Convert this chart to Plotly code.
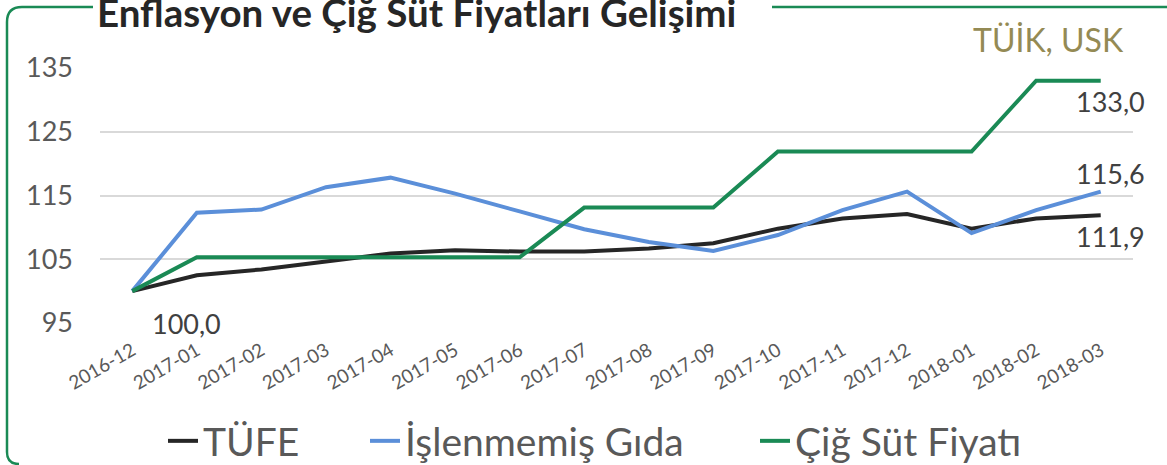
import plotly.graph_objects as go

months = ["2016-12", "2017-01", "2017-02", "2017-03", "2017-04", "2017-05", "2017-06",
          "2017-07", "2017-08", "2017-09", "2017-10", "2017-11", "2017-12",
          "2018-01", "2018-02", "2018-03"]
tufe = [100.0, 102.5, 103.4, 104.6, 105.9, 106.4, 106.2, 106.2, 106.7, 107.5,
        109.8, 111.4, 112.1, 109.8, 111.4, 111.9]
gida = [100.0, 112.3, 112.8, 116.3, 117.8, 115.3, 112.5, 109.7, 107.7, 106.3,
        108.8, 112.7, 115.6, 109.1, 112.7, 115.6]
sut = [100.0, 105.3, 105.3, 105.3, 105.3, 105.3, 105.3, 113.1, 113.1, 113.1,
       121.9, 121.9, 121.9, 121.9, 133.0, 133.0]
y_ticks = [95, 105, 115, 125, 135]

title = "Enflasyon ve Çiğ Süt Fiyatları Gelişimi"
source = "TÜİK, USK"

FONT = "Lato"
W, H = 1167, 465
L, R, T, B = 100, 34, 68, 142
PW = W - L - R
PH = H - T - B


def px(x):
    return (x - L) / PW


def py(y):
    return (H - B - y) / PH


fig = go.Figure()
series = [("TÜFE", tufe, "#262626", "legend", 163),
          ("İşlenmemiş Gıda", gida, "#5b8fd9", "legend2", 365),
          ("Çiğ Süt Fiyatı", sut, "#1a8a55", "legend3", 755)]
legend_font = dict(family=FONT, size=39, color="#595959")
legends = {}
for name, vals, col, lg, lx in series:
    fig.add_trace(go.Scatter(x=months, y=vals, mode="lines", name=name, legend=lg,
                             line=dict(color=col, width=4)))
    legends[lg] = dict(x=px(lx), xanchor="left", y=py(441), yanchor="middle",
                       orientation="h", font=legend_font, bgcolor="rgba(0,0,0,0)",
                       borderwidth=0)

fmt = lambda v: f"{v:.1f}".replace(".", ",")
ann = [
    dict(x=months[0], y=tufe[0], text=fmt(tufe[0]), xshift=18, yshift=-32),
    dict(x=months[-1], y=sut[-1], text=fmt(sut[-1]), xshift=-27, yshift=-21),
    dict(x=months[-1], y=gida[-1], text=fmt(gida[-1]), xshift=-27, yshift=18),
    dict(x=months[-1], y=tufe[-1], text=fmt(tufe[-1]), xshift=-27, yshift=-21),
]
for a in ann:
    fig.add_annotation(**a, showarrow=False, xref="x", yref="y", xanchor="left",
                       yanchor="middle", font=dict(family=FONT, size=27, color="#404040"))

fig.add_annotation(text="<b>" + title + "</b>", x=px(95), y=py(12), xref="paper",
                   yref="paper", xanchor="left", yanchor="middle", showarrow=False,
                   font=dict(family=FONT, size=38.5, color="#262626"))
fig.add_annotation(text=source, x=px(1126), y=py(40), xref="paper", yref="paper",
                   xanchor="right", yanchor="middle", showarrow=False,
                   font=dict(family=FONT, size=32, color="#948a54"))

# frame
path = (f"M {px(93)},{py(7)} L {px(22)},{py(7)} Q {px(7)},{py(7)} {px(7)},{py(22)} "
        f"L {px(7)},{py(452)} Q {px(7)},{py(464)} {px(19)},{py(464)}")
fig.add_shape(type="path", path=path, xref="paper", yref="paper",
              line=dict(color="#1a8a55", width=2.5), layer="below")
fig.add_shape(type="line", x0=px(772), x1=px(1170), y0=py(7), y1=py(7), xref="paper",
              yref="paper", line=dict(color="#1a8a55", width=2.5), layer="below")

fig.update_layout(
    width=W, height=H,
    margin=dict(l=L, r=R, t=T, b=B, autoexpand=False),
    paper_bgcolor="white", plot_bgcolor="white",
    separators=",.",
    showlegend=True,
    xaxis=dict(type="category", range=[-0.5, len(months) - 0.5], showgrid=False,
               showline=False, zeroline=False, tickangle=-30, ticks="", automargin=False,
               ticklabelstandoff=12,
               tickfont=dict(family=FONT, size=19, color="#595959")),
    yaxis=dict(range=[95, 135], tickvals=y_ticks, showgrid=True, gridcolor="#d9d9d9",
               gridwidth=1.5, zeroline=False, showline=False, ticks="", automargin=False,
               ticklabelstandoff=26,
               tickfont=dict(family=FONT, size=27, color="#595959")),
    **legends,
)
fig.write_html("out.html", config={"displayModeBar": False},
               post_script="document.body.style.margin='0';document.body.style.overflow='hidden';")
